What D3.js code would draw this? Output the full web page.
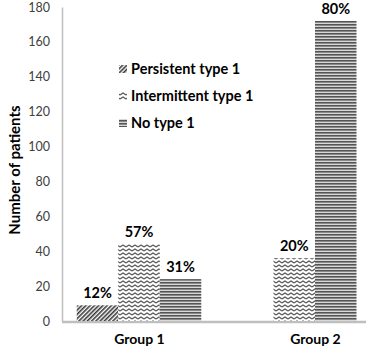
<!DOCTYPE html>
<html><head><meta charset="utf-8">
<script src="https://cdn.jsdelivr.net/npm/d3@7"></script>
<style>body{margin:0;background:#fff;}svg{display:block;font-family:Lato,"Open Sans",sans-serif;}</style>
</head><body>
<svg id="c" width="369" height="349"></svg>
<script>
const groups = ["Group 1", "Group 2"];
const seriesNames = ["Persistent type 1", "Intermittent type 1", "No type 1"];
const persistent = [9, null];
const intermittent = [44, 36];
const noType = [24, 172];
const pctPersistent = ["12%", null];
const pctIntermittent = ["57%", "20%"];
const pctNoType = ["31%", "80%"];
const yTicks = [0, 20, 40, 60, 80, 100, 120, 140, 160, 180];

const svg = d3.select("#c");
const defs = svg.append("defs");
// diagonal hatch
const p1 = defs.append("pattern").attr("id","pat0").attr("patternUnits","userSpaceOnUse").attr("width",3).attr("height",3).attr("patternTransform","rotate(45)");
p1.append("rect").attr("width",3).attr("height",3).attr("fill","#fff");
p1.append("rect").attr("width",1.6).attr("height",3).attr("fill","#3a3a3a");
// zigzag
const p2 = defs.append("pattern").attr("id","pat1").attr("patternUnits","userSpaceOnUse").attr("width",6).attr("height",4);
p2.append("rect").attr("width",6).attr("height",4).attr("fill","#fff");
p2.append("path").attr("d","M0,3 L3,1 L6,3").attr("fill","none").attr("stroke","#555").attr("stroke-width",1.2);
// horizontal stripes
const p3 = defs.append("pattern").attr("id","pat2").attr("patternUnits","userSpaceOnUse").attr("width",4).attr("height",3);
p3.append("rect").attr("width",4).attr("height",3).attr("fill","#d8d8d8");
p3.append("rect").attr("width",4).attr("height",1.6).attr("fill","#555");

const x0 = d3.scalePoint().domain(groups).range([139, 315]);
const y = d3.scaleLinear().domain([0,180]).range([321, 7]);
const bw = 41.5;

// axes
const yAxis = svg.append("g").attr("transform","translate(62,0)")
  .call(d3.axisLeft(y).tickValues(yTicks).tickSize(0).tickPadding(12));
yAxis.select(".domain").attr("stroke","#bfbfbf").attr("stroke-width",1.5);
yAxis.selectAll("text").attr("fill","#404040").attr("font-size","12.5px").attr("font-family","Lato, sans-serif");

const xAxis = svg.append("g").attr("transform","translate(0,322)")
  .call(d3.axisBottom(x0).tickSize(0).tickPadding(12));
xAxis.select(".domain").remove();
xAxis.selectAll("text").attr("fill","#000").attr("font-size","14px").attr("font-weight","bold").attr("font-family","Lato, sans-serif");
svg.append("line").attr("x1",62).attr("x2",366).attr("y1",y(0)+1).attr("y2",y(0)+1)
  .attr("stroke","#bfbfbf").attr("stroke-width",2.5);

svg.append("text").attr("transform","translate(15,170) rotate(-90)").attr("text-anchor","middle").attr("dy","0.35em")
  .attr("font-size","15px").attr("font-weight","bold").text("Number of patients");

// bars
const barsData = [];
groups.forEach((g,i)=>{
  const items = [];
  if (persistent[i]!=null) items.push({s:0,v:persistent[i],l:pctPersistent[i]});
  items.push({s:1,v:intermittent[i],l:pctIntermittent[i]});
  items.push({s:2,v:noType[i],l:pctNoType[i]});
  const center = x0(g);
  const start = center - items.length*bw/2;
  items.forEach((d,j)=>barsData.push({g, x:start + j*bw, ...d}));
});
svg.selectAll(".bar").data(barsData).join("rect").attr("class","bar")
  .attr("x",d=>d.x).attr("width",bw).attr("y",d=>y(d.v)).attr("height",d=>y(0)-y(d.v))
  .attr("fill",d=>`url(#pat${d.s})`);
svg.selectAll(".lbl").data(barsData).join("text").attr("class","lbl")
  .attr("x",d=>d.x+bw/2).attr("y",d=>y(d.v)-7).attr("text-anchor","middle")
  .attr("font-size","14.5px").attr("font-weight","bold").text(d=>d.l);

// legend
const leg = svg.append("g");
seriesNames.forEach((n,i)=>{
  const yy = 69 + i*27;
  leg.append("rect").attr("x",119).attr("y",yy-4).attr("width",8).attr("height",8).attr("fill",`url(#pat${i})`);
  leg.append("text").attr("x",131).attr("y",yy).attr("dy","0.35em").attr("font-size","14.5px").attr("font-weight","bold").text(n);
});
</script>
</body></html>
